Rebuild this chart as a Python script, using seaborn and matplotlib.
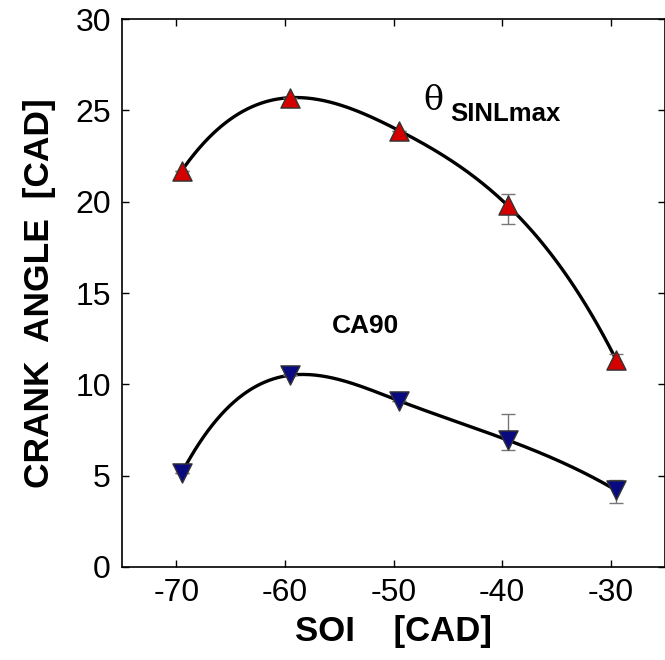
import numpy as np
import pandas as pd
import matplotlib
matplotlib.use("Agg")
import matplotlib.pyplot as plt
import seaborn as sns

# ---- data ----
soi = [-69.5, -59.5, -49.5, -39.5, -29.5]
theta_sinl = [21.7, 25.7, 23.9, 19.8, 11.35]
theta_err_lo = [0.0, 0.0, 0.0, 1.0, 0.5]
theta_err_hi = [0.0, 0.0, 0.0, 0.6, 0.3]
ca90 = [5.15, 10.5, 9.1, 6.95, 4.2]
ca90_err_lo = [0.0, 0.0, 0.0, 0.55, 0.7]
ca90_err_hi = [0.0, 0.0, 0.0, 1.4, 0.55]
xticks = [-70, -60, -50, -40, -30]
yticks = [0, 5, 10, 15, 20, 25, 30]


def spline_curve(x, y, n=300):
    x = np.asarray(x, float); y = np.asarray(y, float)
    k = len(x); h = np.diff(x)
    A = np.zeros((k, k)); b = np.zeros(k)
    A[0, 0], A[0, 1], A[0, 2] = h[1], -(h[0] + h[1]), h[0]
    A[-1, -3], A[-1, -2], A[-1, -1] = h[-1], -(h[-2] + h[-1]), h[-2]
    for i in range(1, k - 1):
        A[i, i - 1] = h[i - 1]; A[i, i] = 2 * (h[i - 1] + h[i]); A[i, i + 1] = h[i]
        b[i] = 6 * ((y[i + 1] - y[i]) / h[i] - (y[i] - y[i - 1]) / h[i - 1])
    M = np.linalg.solve(A, b)
    xs = np.linspace(x[0], x[-1], n)
    idx = np.clip(np.searchsorted(x, xs) - 1, 0, k - 2)
    xi, xi1, hi = x[idx], x[idx + 1], h[idx]
    ys = (M[idx] * (xi1 - xs) ** 3 / (6 * hi) + M[idx + 1] * (xs - xi) ** 3 / (6 * hi)
          + (y[idx] / hi - M[idx] * hi / 6) * (xi1 - xs)
          + (y[idx + 1] / hi - M[idx + 1] * hi / 6) * (xs - xi))
    return xs, ys


sns.set_theme(style="white")
plt.rcParams['font.family'] = ['Liberation Sans', 'DejaVu Sans']
plt.rcParams['axes.unicode_minus'] = False

fig = plt.figure(figsize=(6.65, 6.6), dpi=100)
ax = fig.add_axes([0.1835, 0.141, 0.8165, 0.830])

for ys_, col, mk, lo, hi in [(theta_sinl, '#d40000', '^', theta_err_lo, theta_err_hi),
                             (ca90, '#0a0a80', 'v', ca90_err_lo, ca90_err_hi)]:
    cx, cy = spline_curve(soi, ys_)
    sns.lineplot(x=cx, y=cy, ax=ax, color='black', linewidth=2.4, sort=False)
    ax.errorbar(soi, ys_, yerr=[lo, hi], fmt='none', ecolor='#777777',
                elinewidth=1.0, capsize=5, capthick=1.0, zorder=3)
    df = pd.DataFrame({'x': soi, 'y': ys_})
    sns.scatterplot(data=df, x='x', y='y', ax=ax, marker=mk, s=190, color=col,
                    edgecolor='#333333', linewidth=1.0, zorder=4)

ax.set_xlim(-75, -25)
ax.set_ylim(0, 30)
ax.set_xticks(xticks)
ax.set_yticks(yticks)
ax.tick_params(direction='in', length=5, width=1, labelsize=23, colors='black',
               labelcolor='black', top=True, right=True, bottom=True, left=True, pad=8)
for s in ax.spines.values():
    s.set_visible(True); s.set_color('black'); s.set_linewidth(1.2)
ax.set_xlabel('SOI    [CAD]', fontsize=25, fontweight='bold', color='black', labelpad=5)
ax.set_ylabel('CRANK  ANGLE  [CAD]', fontsize=25.5, fontweight='bold', color='black',
              labelpad=14)

ax.text(-46.3, 25.5, 'θ', fontsize=24, family=['DejaVu Serif'], ha='center', va='center',
        color='black')
ax.text(-44.8, 24.8, 'SINLmax', fontsize=18.5, fontweight='bold', ha='left', va='center',
        color='black')
ax.text(-52.6, 13.2, 'CA90', fontsize=19, fontweight='bold', ha='center', va='center',
        color='black')

fig.savefig('out.png', dpi=100)
